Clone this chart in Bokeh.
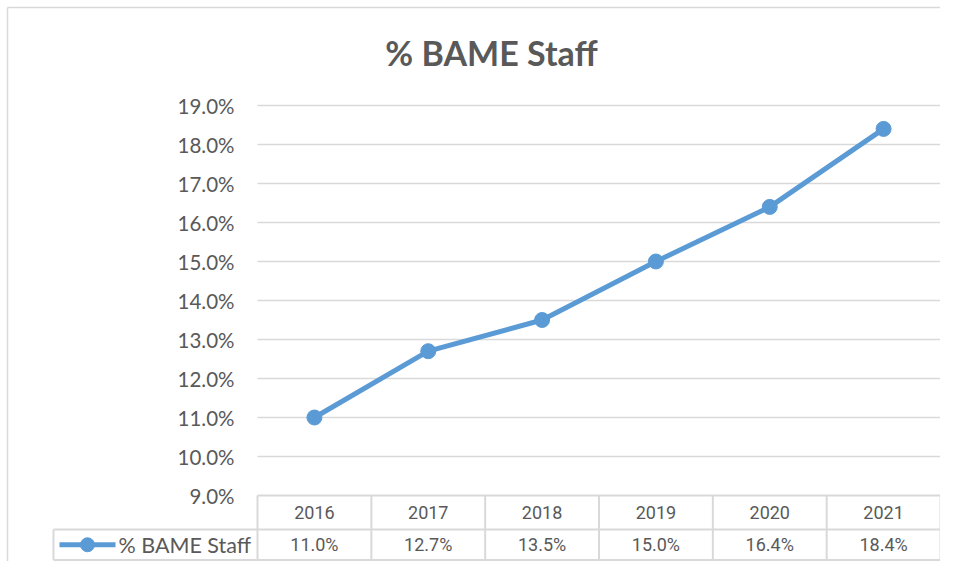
from bokeh.plotting import figure
from bokeh.models import Range1d, ColumnDataSource
from bokeh.core.properties import value
from bokeh.embed import file_html
from bokeh.resources import INLINE

# ---- data ----
years = ["2016", "2017", "2018", "2019", "2020", "2021"]
bame_pct = [11.0, 12.7, 13.5, 15.0, 16.4, 18.4]
y_ticks = [9, 10, 11, 12, 13, 14, 15, 16, 17, 18, 19]
series_name = "% BAME Staff"
title_text = "% BAME Staff"

# ---- layout helpers (pixel -> data units) ----
W, H = 940, 561
CELL = (940 - 257) / len(years)   # px per category cell
PX_PER_PCT = 39.0


def X(px):
    return (px - 257) / CELL


def Y(py):
    return 9 + (495 - py) / PX_PER_PCT


LINE_C = "#5B9BD5"
GRID_C = "#D9D9D9"
TEXT_C = "#595959"
NARROW = "Roboto"

p = figure(width=W, height=H, output_backend="svg", toolbar_location=None,
           x_range=Range1d(X(0), X(W)), y_range=Range1d(Y(H), Y(0)),
           min_border=0, min_border_left=0, min_border_right=0,
           min_border_top=0, min_border_bottom=0)
p.axis.visible = False
p.grid.visible = False
p.outline_line_color = None
p.background_fill_color = "white"
p.border_fill_color = "white"

n = len(years)
xs_center = [i + 0.5 for i in range(n)]

# chart border (top / left)
p.segment(x0=[X(7), X(7)], y0=[Y(7), Y(7)], x1=[X(W), X(7)], y1=[Y(7), Y(H)],
          line_color=GRID_C, line_width=1.5)

# gridlines
grid_y = [t for t in y_ticks if t != y_ticks[0]]
p.segment(x0=[0] * len(grid_y), y0=grid_y, x1=[n] * len(grid_y), y1=grid_y,
          line_color=GRID_C, line_width=1.5)

# y tick labels
p.text(x=[X(234)] * len(y_ticks), y=y_ticks, text=[f"{t:.1f}%" for t in y_ticks],
       text_align="right", text_baseline="middle", text_color=TEXT_C,
       text_font=value("Lato"), text_font_size="20.5px")

# data table lines
row_mid = Y(529)
tbl_bottom = Y(559.5)
leg_left = X(53)
p.segment(x0=[0, leg_left, leg_left], y0=[y_ticks[0], row_mid, tbl_bottom],
          x1=[n, n, n], y1=[y_ticks[0], row_mid, tbl_bottom],
          line_color=GRID_C, line_width=2)
p.segment(x0=list(range(n + 1)), y0=[y_ticks[0]] * (n + 1),
          x1=list(range(n + 1)), y1=[tbl_bottom] * (n + 1),
          line_color=GRID_C, line_width=2)
p.segment(x0=[leg_left], y0=[row_mid], x1=[leg_left], y1=[tbl_bottom],
          line_color=GRID_C, line_width=2)

# table text
hdr_y = (y_ticks[0] + row_mid) / 2
val_y = (row_mid + tbl_bottom) / 2
p.text(x=xs_center, y=[hdr_y] * n, text=years, text_align="center", text_baseline="middle",
       text_color=TEXT_C, text_font=value(NARROW), text_font_size="18px")
p.text(x=xs_center, y=[val_y] * n, text=[f"{v:.1f}%" for v in bame_pct],
       text_align="center", text_baseline="middle",
       text_color=TEXT_C, text_font=value(NARROW), text_font_size="18px")

# legend key in table
p.line(x=[X(59), X(115)], y=[val_y, val_y], line_color=LINE_C, line_width=5)
p.scatter(x=[X(87)], y=[val_y], size=14, fill_color=LINE_C, line_color=LINE_C)
p.text(x=[X(118)], y=[val_y], text=[series_name], text_align="left", text_baseline="middle",
       text_color=TEXT_C, text_font=value("Lato"), text_font_size="21.5px")

# series
src = ColumnDataSource(dict(x=xs_center, y=bame_pct))
p.line("x", "y", source=src, line_color=LINE_C, line_width=5)
p.scatter("x", "y", source=src, size=15, fill_color=LINE_C, line_color=LINE_C)

# title
p.text(x=[X(491)], y=[Y(52)], text=[title_text], text_align="center", text_baseline="middle",
       text_color=TEXT_C, text_font=value("Lato"), text_font_size="34px", text_font_style="bold")

open("out.html", "w").write(file_html(p, INLINE))
